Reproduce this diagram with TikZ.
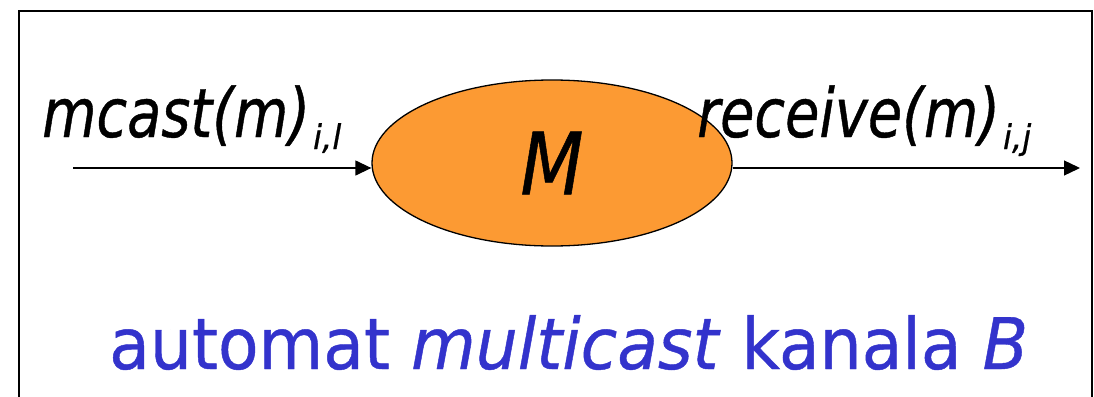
\documentclass[tikz,border=0pt]{standalone}
\usepackage{fontspec}
\usetikzlibrary{shapes.geometric,arrows.meta}
\newfontfamily\labfont[FakeStretch=0.82,FakeBold=0.6]{DejaVu Sans}
\newfontfamily\subfont[FakeStretch=0.95,FakeBold=0.6]{DejaVu Sans}
\newfontfamily\capfont[FakeStretch=0.935,FakeBold=0.6]{DejaVu Sans}
\newfontfamily\bigfont[FakeStretch=0.85,FakeBold=0.6]{DejaVu Sans}
\definecolor{mango}{RGB}{252,154,51}
\definecolor{capblue}{RGB}{51,51,204}
\tikzset{
  frame/.style={draw=black, line width=2pt},
  automaton/.style={ellipse, draw=black, line width=1.3pt, fill=mango,
    minimum width=360pt, minimum height=166pt, inner sep=0pt,
    font=\bigfont\itshape\fontsize{86}{90}\selectfont},
  lbl/.style={inner sep=0pt, anchor=base west,
    font=\labfont\itshape\fontsize{68}{80}\selectfont},
  arr/.style={line width=1.3pt, -{Triangle[length=16pt,width=15pt]}},
  caption/.style={inner sep=0pt, anchor=base west, text=capblue,
    font=\capfont\fontsize{71}{80}\selectfont}
}
\newcommand{\sublbl}[1]{\hspace{3pt}\raisebox{-12pt}{\subfont\itshape\fontsize{34}{36}\selectfont #1}}
\begin{document}
\begin{tikzpicture}[x=1pt,y=-1pt]
\useasboundingbox (0,0) rectangle (1094,396);
\clip (0,0) rectangle (1094,396);
\fill[white] (0,0) rectangle (1094,396);
\draw[frame] (19,11) rectangle (1092,420);
\node[automaton] (M) at (552,163) {M};
\coordinate (in) at (73,168);
\coordinate (out) at (1080,168);
\draw[arr] (in) -- (in -| M.west);
\draw[arr] (out -| M.east) -- (out);
\node[lbl] (send) at (42,137) {mcast(m)\sublbl{i,l}};
\node[lbl] (recv) at (697,137) {receive(m)\sublbl{i,j}};
\node[caption] (cap) at (109,369) {automat \textit{multicast} kanala \textit{B}};
\end{tikzpicture}
\end{document}
